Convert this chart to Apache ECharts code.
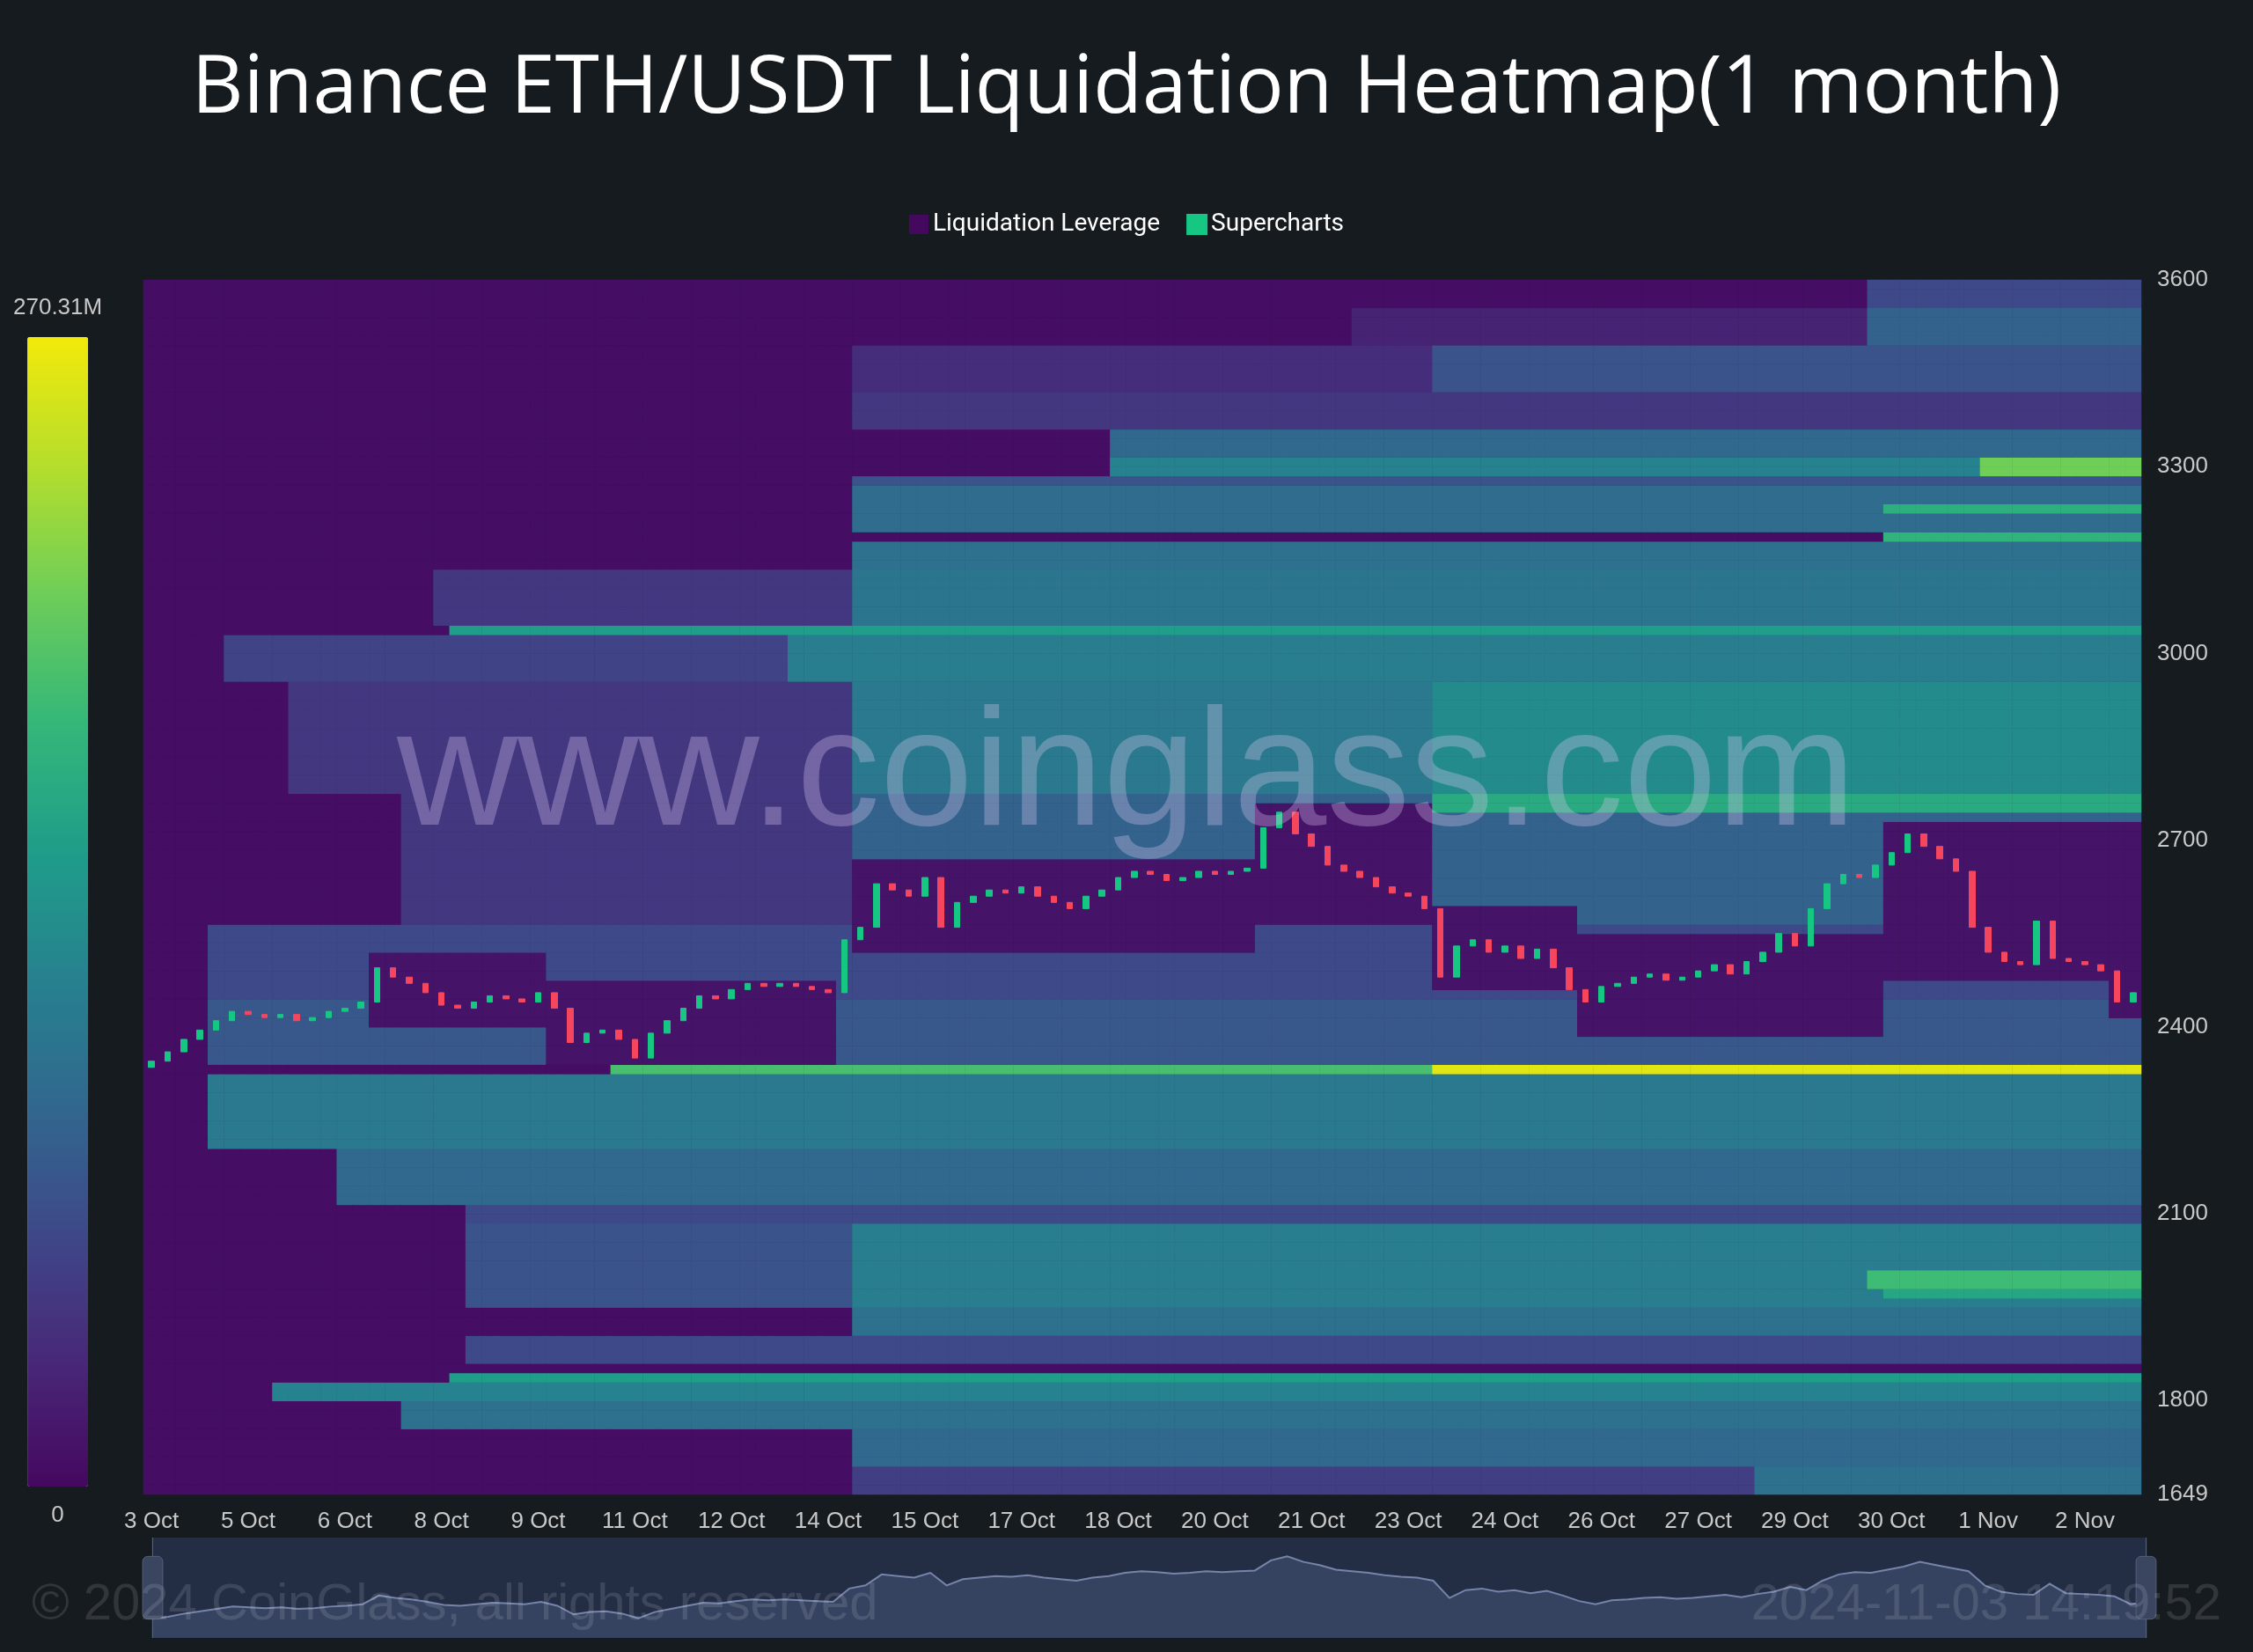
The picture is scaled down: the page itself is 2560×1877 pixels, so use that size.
<!DOCTYPE html>
<html>
<head>
<meta charset="utf-8">
<style>
html,body{margin:0;padding:0;background:#161b1f;}
#main{width:2560px;height:1877px;}
</style>
<script src="https://cdn.jsdelivr.net/npm/echarts@6/dist/echarts.min.js"></script>
</head>
<body>
<div id="main"></div>
<script>
// tick labels, one every 1.5 days (6 slots of 6h)
var dayLabels = ['3 Oct','5 Oct','6 Oct','8 Oct','9 Oct','11 Oct','12 Oct','14 Oct','15 Oct','17 Oct','18 Oct',
  '20 Oct','21 Oct','23 Oct','24 Oct','26 Oct','27 Oct','29 Oct','30 Oct','1 Nov','2 Nov'];
var priceTicks = [1649, 1800, 2100, 2400, 2700, 3000, 3300, 3600];

// 6-hour closes, 3 Oct -> 3 Nov
var closes = [
  2345,2360,2380,2395, 2410,2425,2420,2415, 2420,2410,2415,2425, 2430,2440,2495,2480,
  2470,2455,2435,2430, 2440,2450,2445,2440, 2455,2430,2375,2390, 2395,2380,2350,2390,
  2410,2430,2450,2445, 2460,2470,2465,2470, 2465,2460,2455,2540, 2560,2630,2620,2610,
  2640,2560,2600,2610, 2620,2615,2625,2610, 2600,2590,2610,2620, 2640,2650,2645,2635,
  2640,2650,2645,2650, 2655,2720,2745,2710, 2690,2660,2650,2640, 2625,2615,2610,2590,
  2480,2530,2540,2520, 2530,2510,2525,2495, 2460,2440,2465,2470, 2480,2485,2475,2480,
  2490,2500,2485,2505, 2520,2550,2530,2590, 2630,2645,2640,2660, 2680,2710,2690,2670,
  2650,2560,2520,2505, 2500,2570,2510,2505, 2500,2490,2440,2455
];
var firstOpen = 2335;

// liquidation bands: [priceLow, priceHigh, fromDay, toDay, value in M]
var bands = [
  [1649,3600, 0,31, 6],
  [3420,3555,18.7,31, 25],
  [3555,3600,26.8,31, 60],
  [3495,3555,26.8,31, 85],
  [3420,3495,11,20, 35],
  [3420,3495,20,31, 70],
  [3357,3415,11,31, 45],
  [3310,3357,15,31, 90],
  [3290,3310,15,28.5, 120],
  [3290,3310,28.5,31, 210],
  [3265,3290,11,31, 70],
  [3200,3265,11,31, 95],
  [3225,3240,27,31, 170],
  [3185,3200,27,31, 175],
  [3130,3185,11,31, 100],
  [3050,3130,4.5,11, 45],
  [3050,3130,11,31, 105],
  [3025,3045,4.7,31, 150],
  [2950,3025,1.2,10, 55],
  [2950,3025,10,31, 115],
  [2770,2950,2.2,11, 45],
  [2770,2950,11,20, 110],
  [2770,2950,20,31, 130],
  [2750,2775,20,31, 165],
  [2560,2770,4,11, 45],
  [2560,2770,11,31, 85],
  [2450,2560,1,31, 60],
  [2345,2450,1,31, 75],
  [2320,2345,7.2,20, 190],
  [2320,2345,20,31, 262],
  [2200,2320,1,31, 110],
  [2110,2200,3,31, 90],
  [2080,2110,5,31, 60],
  [1950,2080,5,11, 70],
  [1950,2080,11,31, 115],
  [1985,2005,26.8,31, 185],
  [1960,1975,27,31, 160],
  [1900,1950,11,31, 100],
  [1860,1900,5,31, 60],
  [1835,1850,4.7,31, 150],
  [1800,1835,2,31, 120],
  [1760,1800,4,31, 100],
  [1700,1760,11,31, 90],
  [1649,1700,11,25, 50],
  [1649,1700,25,31, 100]
];
// zones wiped out by price action: [priceLow, priceHigh, fromDay, toDay]
var cleared = [
  [2406,2515,3.5,6.3],
  [2337,2480,6.3,10.7],
  [2515,2676,11,17.3],
  [2560,2760,17.3,20],
  [2457,2590,20.1,22.3],
  [2388,2549,22.3,27],
  [2480,2734,27,31],
  [2420,2480,30.5,31]
];

var nSlots = closes.length, binSize = 15, pMin = 1649, nBins = 130;
var cats = [], candles = [], heat = [];
for (var i = 0; i < nSlots; i++) {
  cats.push(i);
  var o = i === 0 ? firstOpen : closes[i - 1], c = closes[i];
  candles.push([o, c, Math.min(o, c), Math.max(o, c)]);
}
var bins = [];
for (var b = 0; b < nBins; b++) bins.push(b);
for (var i = 0; i < nSlots; i++) {
  var d = (i + 0.5) / 4;
  for (var b = 0; b < nBins; b++) {
    var p = pMin + b * binSize + binSize / 2, v = 0;
    bands.forEach(function (r) { if (p >= r[0] && p < r[1] && d >= r[2] && d < r[3]) v = Math.max(v, r[4]); });
    cleared.forEach(function (r) { if (p >= r[0] && p < r[1] && d >= r[2] && d < r[3]) v = 10; });
    heat.push([i, b, v]);
  }
}

var chart = echarts.init(document.getElementById('main'));
chart.setOption({
  backgroundColor: '#161b1f',
  animation: false,
  title: {
    text: 'Binance ETH/USDT Liquidation Heatmap(1 month)',
    left: 'center', top: 52,
    textStyle: { color: '#ffffff', fontSize: 91, fontWeight: 'normal', fontFamily: 'Open Sans' }
  },
  legend: {
    top: 236, left: 'center', itemWidth: 22, itemHeight: 22, itemGap: 30,
    textStyle: { color: '#ffffff', fontSize: 28, fontFamily: 'Roboto' },
    data: [{ name: 'Liquidation Leverage', icon: 'rect', itemStyle: { color: '#44085f' } },
           { name: 'Supercharts', icon: 'rect', itemStyle: { color: '#16c784' } }]
  },
  graphic: [
    { type: 'text', left: 'center', top: 790, z: 100,
      style: { text: 'www.coinglass.com', fill: 'rgba(220,200,240,0.32)', fontSize: 190, fontFamily: 'Liberation Sans' } },
    { type: 'text', left: 36, top: 1795, z: 100,
      style: { text: '\u00a9 2024 CoinGlass, all rights reserved', fill: 'rgba(255,255,255,0.12)', fontSize: 58, fontFamily: 'Liberation Sans' } },
    { type: 'text', right: 36, top: 1795, z: 100,
      style: { text: '2024-11-03 14:19:52', fill: 'rgba(255,255,255,0.12)', fontSize: 58, fontFamily: 'Liberation Sans' } }
  ],
  grid: { left: 163, right: 127, top: 318, bottom: 179 },
  visualMap: {
    type: 'continuous', min: 0, max: 270.31, seriesIndex: 1, calculable: false,
    left: 0, top: 322, itemWidth: 69, itemHeight: 1306,
    text: ['270.31M', '0'], textGap: 20,
    textStyle: { color: '#c8c8c8', fontSize: 26 },
    inRange: { color: ['#44085f', '#482878', '#3e4989', '#31688e', '#26828e', '#1f9e89', '#35b779', '#6ece58', '#b5de2b', '#f2e90a'] }
  },
  xAxis: {
    type: 'category', data: cats, boundaryGap: true,
    axisLine: { show: false }, axisTick: { show: false }, splitLine: { show: false },
    axisLabel: {
      color: '#c8c8c8', fontSize: 26, margin: 18,
      interval: function (idx) { return idx % 6 === 0; },
      formatter: function (v, idx) { return dayLabels[idx / 6] || ''; }
    }
  },
  yAxis: [
    { type: 'value', position: 'right', min: pMin, max: 3600,
      axisLine: { show: false }, axisTick: { show: false }, splitLine: { show: false },
      axisLabel: { color: '#c8c8c8', fontSize: 26, margin: 18, customValues: priceTicks,
        formatter: function (v) { return String(v); } } },
    { type: 'category', data: bins, show: false, boundaryGap: true }
  ],
  dataZoom: [{
    type: 'slider', xAxisIndex: 0, filterMode: 'none', left: 170, right: 123, top: 1747, height: 114,
    showDetail: false, borderColor: 'transparent', backgroundColor: '#1b2233',
    fillerColor: 'rgba(52,66,100,0.35)',
    handleStyle: { color: '#3a4560', borderColor: '#55607a' },
    moveHandleSize: 0,
    dataBackground: { lineStyle: { color: '#9aa8d0', width: 2, opacity: 1 }, areaStyle: { color: '#36445f', opacity: 1 } },
    selectedDataBackground: { lineStyle: { color: '#9aa8d0', width: 2 }, areaStyle: { color: '#36445f', opacity: 1 } }
  }],
  series: [
    { name: 'shadow', type: 'line', data: closes, yAxisIndex: 0, symbol: 'none', lineStyle: { opacity: 0 }, silent: true, legendHoverLink: false },
    { name: 'Liquidation Leverage', type: 'heatmap', data: heat, xAxisIndex: 0, yAxisIndex: 1, itemStyle: { borderWidth: 0 } },
    { name: 'Supercharts', type: 'candlestick', data: candles, yAxisIndex: 0, barMaxWidth: 7, z: 5,
      itemStyle: { color: '#16c784', color0: '#f6465d', borderColor: '#16c784', borderColor0: '#f6465d' } }
  ]
});
</script>
</body>
</html>
